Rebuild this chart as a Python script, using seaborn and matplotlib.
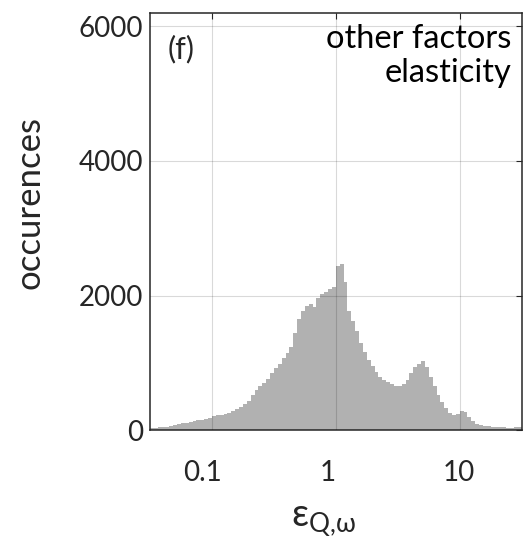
import numpy as np
import pandas as pd
import matplotlib
matplotlib.use("Agg")
import matplotlib.pyplot as plt
import matplotlib.transforms as mtransforms
import seaborn as sns

# Histogram of the other-factors elasticity, binned in log10 units
log_edges = list(np.linspace(-1.5, 1.5, 97))
occurrences = [
    35, 40, 45, 50, 55, 65, 80, 95, 105, 115,
    130, 145, 150, 160, 170, 190, 210, 225, 235, 245,
    260, 290, 320, 350, 395, 440, 520, 600, 660, 700,
    770, 850, 920, 990, 1070, 1150, 1240, 1450, 1650, 1780,
    1850, 1870, 1830, 1960, 2030, 2060, 2100, 2130, 2440, 2470,
    2200, 1780, 1620, 1480, 1300, 1170, 1040, 950, 870, 800,
    750, 715, 690, 665, 655, 690, 750, 860, 940, 990,
    1030, 940, 800, 660, 520, 430, 330, 260, 230, 250,
    290, 270, 200, 140, 100, 85, 70, 60, 55, 50,
    45, 45, 40, 40, 45, 45,
]
x_ticks = [0.1, 1, 10]
x_tick_labels = ["0.1", "1", "10"]
y_ticks = [0, 2000, 4000, 6000]

edges_arr = np.asarray(log_edges)
centers = 10 ** ((edges_arr[:-1] + edges_arr[1:]) / 2)
df = pd.DataFrame({"elasticity": centers, "occurrences": occurrences})

sns.set_theme(style="white")
plt.rcParams["font.family"] = ["Lato", "DejaVu Sans"]
plt.rcParams["mathtext.fontset"] = "custom"
plt.rcParams["mathtext.rm"] = "Lato"
plt.rcParams["mathtext.it"] = "Lato:italic"
plt.rcParams["mathtext.sf"] = "Lato"
plt.rcParams["mathtext.fallback"] = "stixsans"

ink = "#262626"
fig = plt.figure(figsize=(5.23, 5.40), dpi=100)
ax = fig.add_axes([0.2868, 0.2028, 0.7107, 0.7737])

sns.histplot(
    data=df, x="elasticity", weights="occurrences", bins=log_edges,
    log_scale=True, element="step", fill=True, color="#b1b1b1",
    alpha=1, linewidth=0, ax=ax,
)

ax.set_xlim(10 ** -1.5, 10 ** 1.5)
ax.set_ylim(0, 6200)
ax.set_xticks(x_ticks)
ax.set_xticklabels(x_tick_labels)
ax.xaxis.set_minor_locator(matplotlib.ticker.NullLocator())
ax.set_yticks(y_ticks)

ax.grid(True, which="major", color="black", alpha=0.15, linewidth=0.8)
ax.set_axisbelow(False)

for s in ax.spines.values():
    s.set_visible(True)
    s.set_color(ink)
    s.set_linewidth(1.1)

ax.tick_params(axis="both", which="major", direction="in", length=4,
               width=0.8, color=ink, labelcolor=ink, labelsize=20,
               top=True, right=True)
ax.tick_params(axis="x", pad=21)
ax.tick_params(axis="y", pad=5)

# small horizontal nudges of the x tick labels
for lbl, dx in zip(ax.get_xticklabels(), [-9, -8, -1]):
    lbl.set_transform(lbl.get_transform() +
                      mtransforms.ScaledTranslation(dx / 100, 0,
                                                    fig.dpi_scale_trans))

ax.set_ylabel("occurences", fontsize=25, color=ink, va="center")
ax.yaxis.set_label_coords(-0.323, 0.546)
ax.set_xlabel(r"$\mathrm{\varepsilon}_{\mathrm{Q{,}\omega}}$", fontsize=27,
              color=ink, va="center")
ax.xaxis.set_label_coords(0.467, -0.215)

ax.text(0.048, 0.8916, "(f)", transform=ax.transAxes, fontsize=22,
        color=ink, ha="left", va="baseline")
ax.text(0.973, 0.9155, "other factors", transform=ax.transAxes,
        fontsize=23.5, color="black", ha="right", va="baseline")
ax.text(0.973, 0.834, "elasticity", transform=ax.transAxes,
        fontsize=23.5, color="black", ha="right", va="baseline")

fig.savefig("out.png", dpi=100)
